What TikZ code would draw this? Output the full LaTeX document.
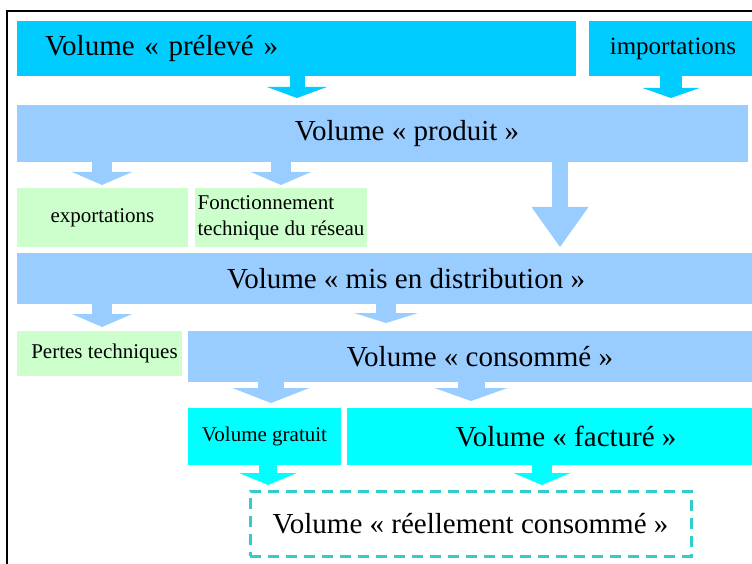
\documentclass[tikz,border=0pt]{standalone}
\usepackage{fontspec}
\setmainfont{Liberation Serif}
\usetikzlibrary{arrows.meta}

\definecolor{deepsky}{HTML}{00CCFF}
\definecolor{paleblue}{HTML}{99CCFF}
\definecolor{palegreen}{HTML}{CCFFCC}
\definecolor{aqua}{HTML}{00FFFF}
\definecolor{tealline}{HTML}{33CCCC}

\tikzset{
  vol/.style={anchor=north west, inner sep=0pt, outer sep=0pt, font=\fontsize{29}{34}\selectfont},
  note/.style={anchor=north west, inner sep=0pt, outer sep=0pt, font=\fontsize{21}{26}\selectfont},
  flow/.style args={#1/#2/#3}{line width=#1, -{Triangle[length=#2, width=#3, line width=0pt]}},
}

\begin{document}
\begin{tikzpicture}[x=1pt, y=-1pt]

\useasboundingbox (0,0) rectangle (752,564);
\clip (0,0) rectangle (752,564);

% Frame
\draw[line width=2pt] (7,11) rectangle (800,620);

% Boxes, top to bottom
\node[vol, fill=deepsky, minimum width=559pt, minimum height=55pt,
      text width=503pt, inner xsep=28pt, align=left] (prel) at (17,21) {Volume « prélevé »};
\node[vol, fill=deepsky, font=\fontsize{25}{30}\selectfont,
      minimum width=168pt, minimum height=55pt] (imp) at (589,21) {importations};

\node[vol, fill=paleblue, minimum width=731pt, minimum height=57pt] (prod) at (17,105) {\hspace*{49pt}Volume « produit »};

\node[note, fill=palegreen, minimum width=171pt, minimum height=59pt] (expo) at (17,188) {exportations};
\node[note, fill=palegreen, minimum width=172pt, minimum height=59pt, align=left] (fonct) at (195,188) {Fonctionnement\\technique du réseau};

\node[vol, fill=paleblue, minimum width=778pt, minimum height=51pt] (mis) at (17,253) {Volume « mis en distribution »};

\node[note, fill=palegreen, minimum width=165pt, minimum height=45pt] (pertes) at (17,331) {\hspace*{10pt}Pertes techniques};
\node[vol, fill=paleblue, minimum width=584pt, minimum height=51pt] (cons) at (188,331) {Volume « consommé »};

\node[note, fill=aqua, minimum width=153pt, minimum height=57pt] (grat) at (188,408) {Volume gratuit};
\node[vol, fill=aqua, minimum width=438pt, minimum height=57pt] (fact) at (347,408) {Volume « facturé »};

\node[vol, draw=tealline, line width=3pt, dash pattern=on 11pt off 7pt,
      minimum width=441pt, minimum height=65pt] (reel) at (250,491) {Volume « réellement consommé »};

% Arrows
\draw[flow=15pt/11pt/60pt, deepsky, shorten >=7pt] (prel.south -| 297,0) -- (prod.north -| 297,0);
\draw[flow=22pt/10pt/57pt, deepsky, shorten >=7pt] (imp.south -| 671,0) -- (prod.north -| 671,0);

\foreach \s/\t/\x/\g in {prod/expo/102/3, prod/fonct/281/3, mis/pertes/102/4}
  \draw[flow=20pt/13pt/60pt, paleblue, shorten >=\g pt] (\s.south -| \x,0) -- (\t.north -| \x,0);

\draw[flow=16pt/40pt/57pt, paleblue, shorten >=6pt] (prod.south -| 560,0) -- (mis.north -| 560,0);
\draw[flow=20pt/10pt/64pt, paleblue, shorten >=8pt] (mis.south -| 386,0) -- (cons.north -| 386,0);
\draw[flow=26pt/15pt/77pt, paleblue, shorten >=5pt] (cons.south -| 271,0) -- (grat.north -| 271,0);
\draw[flow=27pt/13pt/73pt, paleblue, shorten >=7pt] (cons.south -| 471,0) -- (fact.north -| 471,0);

\draw[flow=18pt/12pt/58pt, aqua, shorten >=6pt] (grat.south -| 268,0) -- (reel.north -| 268,0);
\draw[flow=20pt/12pt/57pt, aqua, shorten >=6pt] (fact.south -| 542,0) -- (reel.north -| 542,0);

\end{tikzpicture}
\end{document}
